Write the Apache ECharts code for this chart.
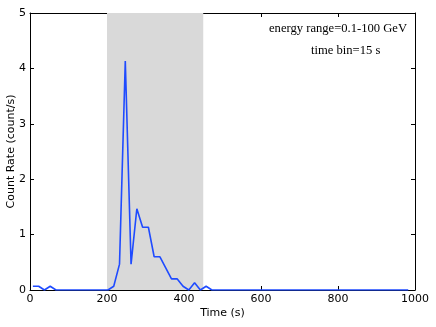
<!DOCTYPE html>
<html>
<head>
<meta charset="utf-8">
<script src="https://cdn.jsdelivr.net/npm/echarts@6/dist/echarts.min.js"></script>
<style>
  html, body { margin: 0; padding: 0; background: #fff; }
  #chart { width: 436px; height: 327px; }
</style>
</head>
<body>
<div id="chart"></div>
<script>
// bin centres (s), 15 s bins
var times = [
  7.5, 22.5, 37.5, 52.5, 67.5, 82.5, 97.5, 112.5, 127.5, 142.5,
  157.5, 172.5, 187.5, 202.5, 217.5, 232.5, 247.5, 262.5, 277.5, 292.5,
  307.5, 322.5, 337.5, 352.5, 367.5, 382.5, 397.5, 412.5, 427.5, 442.5,
  457.5, 472.5, 487.5, 502.5, 517.5, 532.5, 547.5, 562.5, 577.5, 592.5,
  607.5, 622.5, 637.5, 652.5, 667.5, 682.5, 697.5, 712.5, 727.5, 742.5,
  757.5, 772.5, 787.5, 802.5, 817.5, 832.5, 847.5, 862.5, 877.5, 892.5,
  907.5, 922.5, 937.5, 952.5, 967.5, 982.5
];
// count rate (count/s)
var rates = [
  0.067, 0.067, 0, 0.067, 0, 0, 0, 0, 0, 0,
  0, 0, 0, 0, 0.067, 0.467, 4.133, 0.467, 1.467, 1.133,
  1.133, 0.6, 0.6, 0.4, 0.2, 0.2, 0.067, 0, 0.133, 0,
  0.067, 0, 0, 0, 0, 0, 0, 0, 0, 0,
  0, 0, 0, 0, 0, 0, 0, 0, 0, 0,
  0, 0, 0, 0, 0, 0, 0, 0, 0, 0,
  0, 0, 0, 0, 0, 0
];
var shadedRange = [200, 450];

var chart = echarts.init(document.getElementById("chart"));

var points = [];
for (var i = 0; i < times.length; i++) {
  points.push([times[i], rates[i]]);
}

var sans = "DejaVu Sans";
var serif = "Liberation Serif";

var axisCommon = {
  type: "value",
  axisLine: { show: true, onZero: false, lineStyle: { color: "#000", width: 1 } },
  axisTick: { show: true, inside: true, length: 4, lineStyle: { color: "#000", width: 1 } },
  splitLine: { show: false }
};

var option = {
  animation: false,
  grid: { left: 30, right: 21, top: 13, bottom: 37, containLabel: false, outerBoundsMode: "none" },
  xAxis: [
    Object.assign({}, axisCommon, {
      position: "bottom",
      min: 0, max: 1000, interval: 200,
      name: "Time (s)",
      nameLocation: "middle",
      nameGap: 18,
      nameMoveOverlap: false,
      nameTextStyle: { fontFamily: sans, fontSize: 11, color: "#000" },
      axisLabel: {
        show: true, margin: 4, fontFamily: sans, fontSize: 11, color: "#000",
        formatter: function (v) { return String(v); }
      }
    }),
    Object.assign({}, axisCommon, {
      position: "top",
      min: 0, max: 1000, interval: 200,
      axisLabel: { show: false }
    })
  ],
  yAxis: [
    Object.assign({}, axisCommon, {
      position: "left",
      min: 0, max: 5, interval: 1,
      name: "Count Rate (count/s)",
      nameLocation: "middle",
      nameGap: 13,
      nameMoveOverlap: false,
      nameTextStyle: { fontFamily: sans, fontSize: 11, color: "#000" },
      axisLabel: { show: true, margin: 4, fontFamily: sans, fontSize: 11, color: "#000" }
    }),
    Object.assign({}, axisCommon, {
      position: "right",
      min: 0, max: 5, interval: 1,
      axisLabel: { show: false }
    })
  ],
  series: [
    {
      type: "line",
      data: points,
      showSymbol: false,
      symbol: "none",
      lineStyle: { color: "#1f4bff", width: 1.6 },
      z: 5,
      markArea: {
        silent: true,
        itemStyle: { color: "#d9d9d9" },
        data: [[{ xAxis: shadedRange[0] }, { xAxis: shadedRange[1] }]]
      }
    }
  ],
  graphic: [
    {
      type: "text",
      left: 269,
      top: 22,
      style: { text: "energy range=0.1-100 GeV", fontFamily: serif, fontSize: 12.6, fill: "#000" }
    },
    {
      type: "text",
      left: 311,
      top: 44,
      style: { text: "time bin=15 s", fontFamily: serif, fontSize: 12.6, fill: "#000" }
    }
  ]
};

chart.setOption(option);
</script>
</body>
</html>
